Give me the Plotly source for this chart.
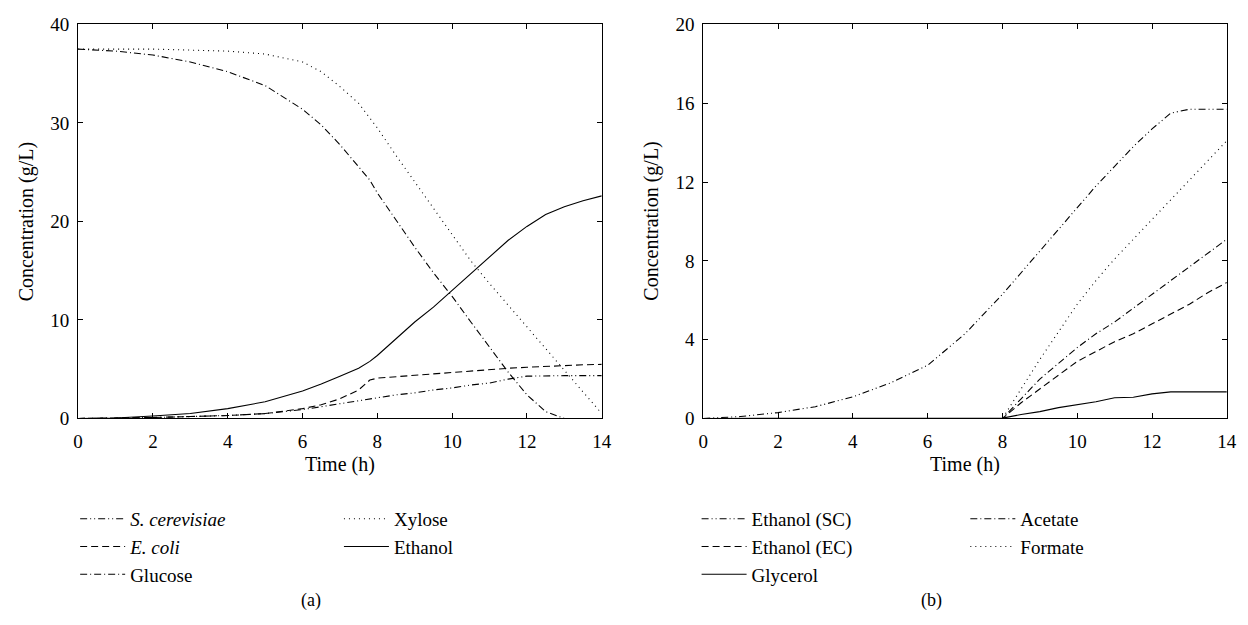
import plotly.graph_objects as go

# ---- panel (a): substrates, biomass and ethanol -------------------------
time_a = [0, 1, 2, 3, 4, 5, 6, 6.5, 7, 7.5, 7.8, 8, 8.5, 9, 9.5, 10, 10.5,
          11, 11.5, 12, 12.5, 13, 13.5, 14]
s_cerevisiae = [0, 0.02, 0.1, 0.2, 0.3, 0.5, 0.9, 1.2, 1.5, 1.8, 2.0, 2.1, 2.4,
                2.6, 2.9, 3.1, 3.4, 3.6, 4.0, 4.3, 4.35, 4.35, 4.35, 4.35]
e_coli = [0, 0.02, 0.1, 0.2, 0.3, 0.5, 1.0, 1.4, 2.0, 2.9, 3.9, 4.1, 4.25,
          4.4, 4.55, 4.7, 4.85, 5.0, 5.1, 5.2, 5.3, 5.4, 5.45, 5.5]
glucose = [37.5, 37.3, 36.9, 36.2, 35.2, 33.8, 31.4, 29.8, 27.8, 25.5, 24.2,
           22.9, 20.1, 17.4, 14.8, 12.4, 9.8, 7.2, 4.7, 2.4, 0.7, 0.0, 0.0, 0.0]
xylose = [37.5, 37.5, 37.5, 37.4, 37.3, 37.0, 36.2, 35.2, 33.7, 32.0, 30.5,
          29.5, 26.7, 24.0, 21.3, 18.6, 16.0, 13.7, 11.5, 9.3, 7.1, 4.9, 2.7, 0.5]
ethanol = [0, 0.05, 0.25, 0.5, 1.0, 1.7, 2.8, 3.5, 4.3, 5.1, 5.8, 6.4, 8.1,
           9.8, 11.3, 13.0, 14.8, 16.5, 18.1, 19.5, 20.7, 21.5, 22.1, 22.6]

# ---- panel (b): fermentation products ------------------------------------
time_b = [0, 1, 2, 3, 4, 5, 6, 7, 8, 8.5, 9, 9.5, 10, 10.5, 11, 11.5, 12,
          12.5, 13, 13.5, 14]
ethanol_sc = [0, 0.1, 0.3, 0.6, 1.1, 1.8, 2.7, 4.3, 6.3, 7.4, 8.5, 9.6, 10.7,
              11.8, 12.8, 13.8, 14.7, 15.5, 15.7, 15.7, 15.7]
ethanol_ec = [0, 0, 0, 0, 0, 0, 0, 0, 0, 0.8, 1.5, 2.2, 2.9, 3.4, 3.9, 4.3,
              4.8, 5.3, 5.8, 6.4, 6.9]
glycerol = [0, 0, 0, 0, 0, 0, 0, 0, 0.02, 0.2, 0.35, 0.55, 0.7, 0.85, 1.05,
            1.08, 1.25, 1.35, 1.35, 1.35, 1.35]
acetate = [0, 0, 0, 0, 0, 0, 0, 0, 0, 1.0, 2.0, 2.8, 3.6, 4.3, 4.9, 5.6, 6.3,
           7.0, 7.7, 8.4, 9.1]
formate = [0, 0, 0, 0, 0, 0, 0, 0, 0, 1.5, 3.0, 4.4, 5.8, 7.0, 8.1, 9.1, 10.1,
           11.1, 12.1, 13.1, 14.1]

x_ticks = [0, 2, 4, 6, 8, 10, 12, 14]
y_ticks_a = [0, 10, 20, 30, 40]
y_ticks_b = [0, 4, 8, 12, 16, 20]

FONT = "Liberation Serif"
W, H = 1248, 625

DASH_DOT_DOT = "7px,3px,1px,3px,1px,3px"
DASHED = "7px,4px"
DASH_DOT = "7px,3px,1px,3px"
DOTTED = "1px,4px"
SOLID = "solid"


def line(x, y, name, dash, xa, ya, legend):
    return go.Scatter(
        x=x, y=y, name=name, mode="lines",
        line=dict(color="black", width=1.1, dash=dash),
        xaxis=xa, yaxis=ya, legend=legend, hoverinfo="skip",
    )


fig = go.Figure()
fig.add_trace(line(time_a, s_cerevisiae, "<i>S. cerevisiae</i>", DASH_DOT_DOT, "x", "y", "legend"))
fig.add_trace(line(time_a, e_coli, "<i>E. coli</i>", DASHED, "x", "y", "legend"))
fig.add_trace(line(time_a, glucose, "Glucose", DASH_DOT, "x", "y", "legend"))
fig.add_trace(line(time_a, xylose, "Xylose", DOTTED, "x", "y", "legend2"))
fig.add_trace(line(time_a, ethanol, "Ethanol", SOLID, "x", "y", "legend2"))

fig.add_trace(line(time_b, ethanol_sc, "Ethanol (SC)", DASH_DOT_DOT, "x2", "y2", "legend3"))
fig.add_trace(line(time_b, ethanol_ec, "Ethanol (EC)", DASHED, "x2", "y2", "legend3"))
fig.add_trace(line(time_b, glycerol, "Glycerol", SOLID, "x2", "y2", "legend3"))
fig.add_trace(line(time_b, acetate, "Acetate", DASH_DOT, "x2", "y2", "legend4"))
fig.add_trace(line(time_b, formate, "Formate", DOTTED, "x2", "y2", "legend4"))


def px_x(v):
    return v / W


def px_y(v):
    return 1 - v / H


# plot frames in pixels
LEFT_A, RIGHT_A = 74, 604
LEFT_B, RIGHT_B = 706.7, 1236.7
TOP, BOTTOM = 15, 422.7

axis_common = dict(
    showline=True, linecolor="black", linewidth=1, mirror="allticks",
    ticks="inside", ticklen=5, tickwidth=1, tickcolor="black",
    showgrid=False, zeroline=False,
    tickfont=dict(family=FONT, size=19, color="black"),
)

fig.update_layout(
    width=W, height=H,
    margin=dict(l=0, r=0, t=0, b=0),
    paper_bgcolor="white", plot_bgcolor="white",
    font=dict(family=FONT, size=19, color="black"),
    xaxis=dict(domain=[px_x(LEFT_A), px_x(RIGHT_A)], range=[0, 14],
               tickvals=x_ticks, anchor="y", ticklabelstandoff=6, **axis_common),
    yaxis=dict(domain=[px_y(BOTTOM), px_y(TOP)], range=[0, 40],
               tickvals=y_ticks_a, anchor="x", ticklabelstandoff=4, **axis_common),
    xaxis2=dict(domain=[px_x(LEFT_B), px_x(RIGHT_B)], range=[0, 14],
                tickvals=x_ticks, anchor="y2", ticklabelstandoff=6, **axis_common),
    yaxis2=dict(domain=[px_y(BOTTOM), px_y(TOP)], range=[0, 20],
                tickvals=y_ticks_b, anchor="x2", ticklabelstandoff=4, **axis_common),
)

legend_common = dict(
    bgcolor="rgba(0,0,0,0)", borderwidth=0, orientation="v",
    xanchor="left", yanchor="top", itemwidth=45,
    font=dict(family=FONT, size=19, color="black"),
    traceorder="normal",
)
LEG_TOP = px_y(507)
fig.update_layout(
    legend=dict(x=px_x(71), y=LEG_TOP, **legend_common),
    legend2=dict(x=px_x(338), y=LEG_TOP, **legend_common),
    legend3=dict(x=px_x(700), y=LEG_TOP, **legend_common),
    legend4=dict(x=px_x(972), y=LEG_TOP, **legend_common),
)

# axis titles and panel captions
annotations = []
for xc in [(LEFT_A + RIGHT_A) / 2, (LEFT_B + RIGHT_B) / 2]:
    annotations.append(dict(text="Time (h)", x=px_x(xc), y=px_y(470),
                            xref="paper", yref="paper", showarrow=False,
                            xanchor="center", yanchor="middle",
                            font=dict(family=FONT, size=20, color="black")))
for xl in [22, 654]:
    annotations.append(dict(text="Concentration (g/L)", x=px_x(xl),
                            y=px_y((TOP + BOTTOM) / 2), textangle=-90,
                            xref="paper", yref="paper", showarrow=False,
                            xanchor="center", yanchor="middle",
                            font=dict(family=FONT, size=20, color="black")))
for label, xc in [("(a)", 310), ("(b)", 938)]:
    annotations.append(dict(text=label, x=px_x(xc), y=px_y(611),
                            xref="paper", yref="paper", showarrow=False,
                            xanchor="center", yanchor="middle",
                            font=dict(family=FONT, size=18, color="black")))
fig.update_layout(annotations=annotations)

fig.write_html("out.html")
